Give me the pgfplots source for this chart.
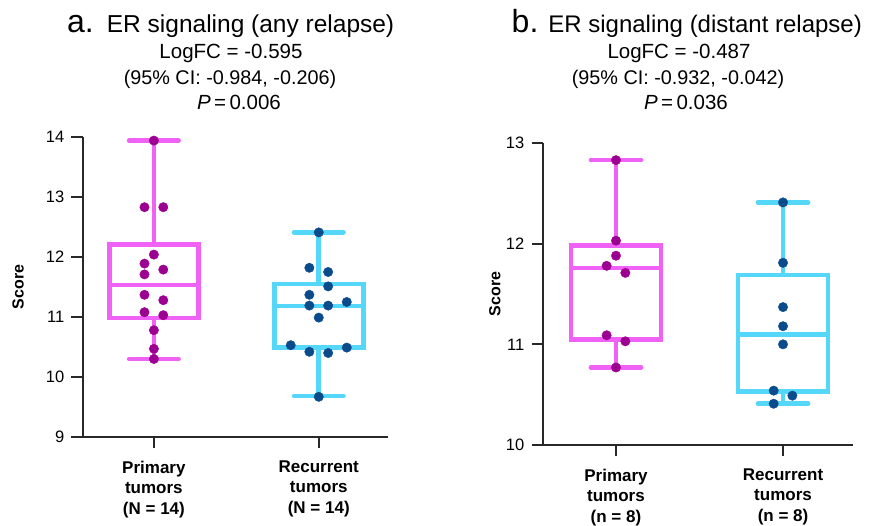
\documentclass[border=0pt]{standalone}
\usepackage{pgfplots}
\pgfplotsset{compat=1.18}
\usepackage{fontspec}
\setmainfont{Liberation Sans}
\definecolor{magbox}{RGB}{240,98,245}
\definecolor{magpt}{RGB}{155,0,145}
\definecolor{cyanbox}{RGB}{85,215,250}
\definecolor{bluept}{RGB}{10,75,140}
\definecolor{axcol}{RGB}{40,40,40}
\pgfplotsset{
  myaxis/.style={
    scale only axis,
    axis x line=bottom, axis y line=left,
    axis line style={-, line width=2pt, draw=axcol},
    tick style={line width=2pt, draw=axcol},
    tick align=outside,
    major tick length=11.5pt,
    clip=false,
    unbounded coords=jump,
    /pgf/number format/assume math mode=true,
    yticklabel style={font=\fontsize{16.5}{19}\selectfont, inner sep=0pt, xshift=-7pt},
    xtick={0,1},
    xticklabel style={font=\bfseries\fontsize{17}{20.5}\selectfont, align=center, anchor=north, inner sep=0pt, yshift=-12pt},
    ylabel={Score},
  },
  boxline/.style={line width=4.6pt, line join=miter, line cap=butt, mark=none},
  whiskline/.style={line width=4.6pt, line cap=round, mark=none},
  dots/.style={only marks, mark=*, mark size=4.7pt},
}
\begin{document}
\begin{tikzpicture}[x=1pt,y=1pt]
\useasboundingbox (0,0) rectangle (874,526);
% ---------- panel a ----------
\begin{axis}[myaxis,
  at={(83pt,89pt)}, anchor=south west,
  width=305pt, height=300pt,
  xmin=-0.43, xmax=1.42, ymin=9, ymax=14,
  ytick={9,10,11,12,13,14},
  xticklabels={{Primary\\tumors\\(N = 14)},{Recurrent\\tumors\\(N = 14)}},
  every axis y label/.style={at={(axis description cs:-0.213,0.5)}, anchor=center, rotate=90, font=\bfseries\fontsize{16}{19}\selectfont},
]
% primary: lw 10.30, q1 10.98, med 11.53, q3 12.21, uw 13.94
\addplot[whiskline, draw=magbox] coordinates {(0,12.21) (0,13.94) (nan,nan) (-0.15,13.94) (0.15,13.94) (nan,nan) (0,10.98) (0,10.30) (nan,nan) (-0.15,10.30) (0.15,10.30)};
\addplot[boxline, draw=magbox] coordinates {(-0.27,10.98) (0.27,10.98) (0.27,12.21) (-0.27,12.21) (-0.27,10.98) (0.27,10.98) (nan,nan) (-0.27,11.53) (0.27,11.53)};
% recurrent: lw 9.68, q1 10.49, med 11.18, q3 11.55, uw 12.41
\addplot[whiskline, draw=cyanbox] coordinates {(1,11.55) (1,12.41) (nan,nan) (0.85,12.41) (1.15,12.41) (nan,nan) (1,10.49) (1,9.68) (nan,nan) (0.85,9.68) (1.15,9.68)};
\addplot[boxline, draw=cyanbox] coordinates {(0.73,10.49) (1.27,10.49) (1.27,11.55) (0.73,11.55) (0.73,10.49) (1.27,10.49) (nan,nan) (0.73,11.18) (1.27,11.18)};
\addplot[dots, color=magpt] coordinates {
(0,13.94) (-0.057,12.83) (0.057,12.83) (0,12.04) (-0.057,11.89) (0.057,11.79) (-0.057,11.71) (-0.057,11.37) (0.057,11.28) (-0.057,11.08) (0.057,11.03) (0,10.78) (0,10.47) (0,10.30)};
\addplot[dots, color=bluept] coordinates {
(1,12.41) (0.943,11.82) (1.057,11.75) (1.057,11.51) (0.943,11.37) (1.17,11.25) (0.943,11.19) (1.057,11.19) (1,10.99) (0.83,10.53) (1.17,10.49) (0.943,10.42) (1.057,10.40) (1,9.67)};
\end{axis}
% ---------- panel b ----------
\begin{axis}[myaxis,
  at={(543pt,81pt)}, anchor=south west,
  width=310pt, height=302pt,
  xmin=-0.437, xmax=1.419, ymin=10, ymax=13,
  ytick={10,11,12,13},
  xticklabels={{Primary\\tumors\\(n = 8)},{Recurrent\\tumors\\(n = 8)}},
  every axis y label/.style={at={(axis description cs:-0.155,0.5)}, anchor=center, rotate=90, font=\bfseries\fontsize{16}{19}\selectfont},
]
% primary: lw 10.77, q1 11.05, med 11.76, q3 11.98, uw 12.83
\addplot[whiskline, draw=magbox] coordinates {(0,11.98) (0,12.83) (nan,nan) (-0.15,12.83) (0.15,12.83) (nan,nan) (0,11.05) (0,10.77) (nan,nan) (-0.15,10.77) (0.15,10.77)};
\addplot[boxline, draw=magbox] coordinates {(-0.27,11.05) (0.27,11.05) (0.27,11.98) (-0.27,11.98) (-0.27,11.05) (0.27,11.05) (nan,nan) (-0.27,11.76) (0.27,11.76)};
% recurrent: lw 10.41, q1 10.53, med 11.10, q3 11.69, uw 12.41
\addplot[whiskline, draw=cyanbox] coordinates {(1,11.69) (1,12.41) (nan,nan) (0.85,12.41) (1.15,12.41) (nan,nan) (1,10.53) (1,10.41) (nan,nan) (0.85,10.41) (1.15,10.41)};
\addplot[boxline, draw=cyanbox] coordinates {(0.73,10.53) (1.27,10.53) (1.27,11.69) (0.73,11.69) (0.73,10.53) (1.27,10.53) (nan,nan) (0.73,11.10) (1.27,11.10)};
\addplot[dots, color=magpt] coordinates {
(0,12.83) (0,12.03) (0,11.88) (-0.056,11.78) (0.056,11.71) (-0.056,11.09) (0.056,11.03) (0,10.77)};
\addplot[dots, color=bluept] coordinates {
(1,12.41) (1,11.81) (1,11.37) (1,11.18) (1,11.00) (0.944,10.54) (1.056,10.49) (0.944,10.41)};
\end{axis}
% ---------- titles ----------
\node[anchor=base west, inner sep=0pt] at (67,493) {{\fontsize{32}{32}\selectfont a.}\hspace{13pt}{\fontsize{24.5}{28}\selectfont ER signaling (any relapse)}};
\node[anchor=base, inner sep=0pt, font=\fontsize{20.5}{24}\selectfont] at (231,467.7) {LogFC = -0.595};
\node[anchor=base, inner sep=0pt, font=\fontsize{19.8}{24}\selectfont] at (230,441.5) {(95\% CI: -0.984, -0.206)};
\node[anchor=base, inner sep=0pt, font=\fontsize{20.5}{24}\selectfont] at (239,416) {\textit{P}\,=\,0.006};
\node[anchor=base west, inner sep=0pt] at (511.5,493) {{\fontsize{32}{32}\selectfont b.}\hspace{10pt}{\fontsize{24}{28}\selectfont ER signaling (distant relapse)}};
\node[anchor=base, inner sep=0pt, font=\fontsize{20.5}{24}\selectfont] at (679,467.7) {LogFC = -0.487};
\node[anchor=base, inner sep=0pt, font=\fontsize{19.8}{24}\selectfont] at (678,441.5) {(95\% CI: -0.932, -0.042)};
\node[anchor=base, inner sep=0pt, font=\fontsize{20.5}{24}\selectfont] at (686,416) {\textit{P}\,=\,0.036};
\end{tikzpicture}
\end{document}
